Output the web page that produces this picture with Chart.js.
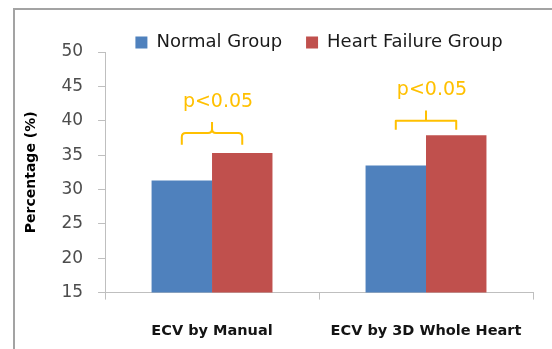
<!DOCTYPE html>
<html>
<head>
<meta charset="utf-8">
<script src="https://cdn.jsdelivr.net/npm/chart.js@4"></script>
<style>
  html, body { margin: 0; padding: 0; background: #ffffff; overflow: hidden; }
  #wrap { position: relative; width: 552px; height: 349px; overflow: hidden; }
  #frame { position: absolute; left: 13px; top: 8px; width: 620px; height: 420px;
           border: 2px solid #a3a3a3; box-sizing: border-box; }
  #chart { position: absolute; left: 0; top: 0; }
</style>
</head>
<body>
<div id="wrap">
  <div id="frame"></div>
  <canvas id="chart" width="552" height="349"></canvas>
</div>
<script>
// ECV by method, normal vs heart failure
const categories = ['ECV by Manual', 'ECV by 3D Whole Heart'];
const normalGroup = [31.3, 33.5];
const heartFailureGroup = [35.3, 37.9];
const yTicks = [15, 20, 25, 30, 35, 40, 45, 50];

// significance brackets between the two bars of each category (y in data units)
const sigText = ['p<0.05', 'p<0.05'];
const sigTextLevel = [42.7, 44.5];
const bracketLevel = [38.2, 40.0];
const bracketFoot = [36.5, 38.7];
const bracketTip = [39.8, 41.5];
const bracketCurved = [true, false];

const GOLD = '#FFC000';
const AXIS = '#bfbfbf';

const sigPlugin = {
  id: 'sigBrackets',
  afterDatasetsDraw(chart) {
    const ctx = chart.ctx;
    const y = chart.scales.y;
    const m0 = chart.getDatasetMeta(0);
    const m1 = chart.getDatasetMeta(1);
    ctx.save();
    ctx.strokeStyle = GOLD;
    ctx.lineWidth = 2;
    ctx.lineJoin = 'round';
    categories.forEach((c, i) => {
      const x0 = m0.data[i].x;
      const x1 = m1.data[i].x;
      const xm = (x0 + x1) / 2;
      const yt = y.getPixelForValue(bracketLevel[i]);
      const yf = y.getPixelForValue(bracketFoot[i]);
      const yp = y.getPixelForValue(bracketTip[i]);
      const r = bracketCurved[i] ? 4 : 0;
      ctx.beginPath();
      ctx.moveTo(x0, yf);
      ctx.lineTo(x0, yt + r);
      ctx.quadraticCurveTo(x0, yt, x0 + r, yt);
      ctx.lineTo(xm - r, yt);
      ctx.quadraticCurveTo(xm, yt, xm, yt - r);
      ctx.lineTo(xm, yp);
      ctx.moveTo(x1, yf);
      ctx.lineTo(x1, yt + r);
      ctx.quadraticCurveTo(x1, yt, x1 - r, yt);
      ctx.lineTo(xm + r, yt);
      ctx.quadraticCurveTo(xm, yt, xm, yt - r);
      ctx.stroke();

      ctx.fillStyle = GOLD;
      ctx.font = '19px "DejaVu Sans"';
      ctx.textAlign = 'center';
      ctx.textBaseline = 'middle';
      ctx.fillText(sigText[i], xm + 6, y.getPixelForValue(sigTextLevel[i]));
    });
    ctx.restore();
  }
};

// keep the legend on one compact row above the plot
const legendTrim = {
  id: 'legendTrim',
  afterInit(chart) {
    const lg = chart.legend;
    if (!lg) return;
    const fit = lg.fit;
    lg.fit = function () {
      const mw = this.maxWidth;
      this.maxWidth = mw + 200;
      fit.call(this);
      this.maxWidth = mw;
      this.width = Math.min(this.width, mw);
      this.height -= 9.5;
    };
  }
};

new Chart(document.getElementById('chart'), {
  type: 'bar',
  data: {
    labels: categories,
    datasets: [
      { label: 'Normal Group', data: normalGroup, backgroundColor: '#4F81BD',
        categoryPercentage: 0.565, barPercentage: 1.0 },
      { label: 'Heart Failure Group', data: heartFailureGroup, backgroundColor: '#C0504D',
        categoryPercentage: 0.565, barPercentage: 1.0 }
    ]
  },
  options: {
    responsive: false,
    animation: false,
    events: [],
    layout: { padding: { left: 23, right: 19, top: 9.5, bottom: -14 } },
    plugins: {
      tooltip: { enabled: false },
      legend: {
        position: 'top',
        fullSize: false,
        labels: {
          boxWidth: 12, boxHeight: 12, padding: 24,
          color: '#1a1a1a',
          font: { family: 'DejaVu Sans', size: 18 }
        }
      }
    },
    scales: {
      x: {
        grid: { display: true, offset: true, drawOnChartArea: false, tickLength: 7, color: AXIS },
        border: { color: AXIS, width: 1 },
        ticks: {
          padding: 23, maxRotation: 0, autoSkip: false, color: '#141414',
          font: { family: 'DejaVu Sans', size: 14.5, weight: 'bold' }
        }
      },
      y: {
        min: 15, max: 50,
        afterBuildTicks(scale) { scale.ticks = yTicks.map(v => ({ value: v })); },
        grid: { display: true, drawOnChartArea: false, tickLength: 7, color: AXIS },
        border: { color: AXIS, width: 1 },
        ticks: {
          padding: 15, color: '#4d4d4d',
          font: { family: 'DejaVu Sans', size: 17 }
        },
        title: {
          display: true, text: 'Percentage (%)', color: '#000000',
          padding: { top: 0, bottom: 6.6 },
          font: { family: 'DejaVu Sans', size: 14, weight: 'bold' }
        }
      }
    }
  },
  plugins: [sigPlugin, legendTrim]
});
</script>
</body>
</html>
